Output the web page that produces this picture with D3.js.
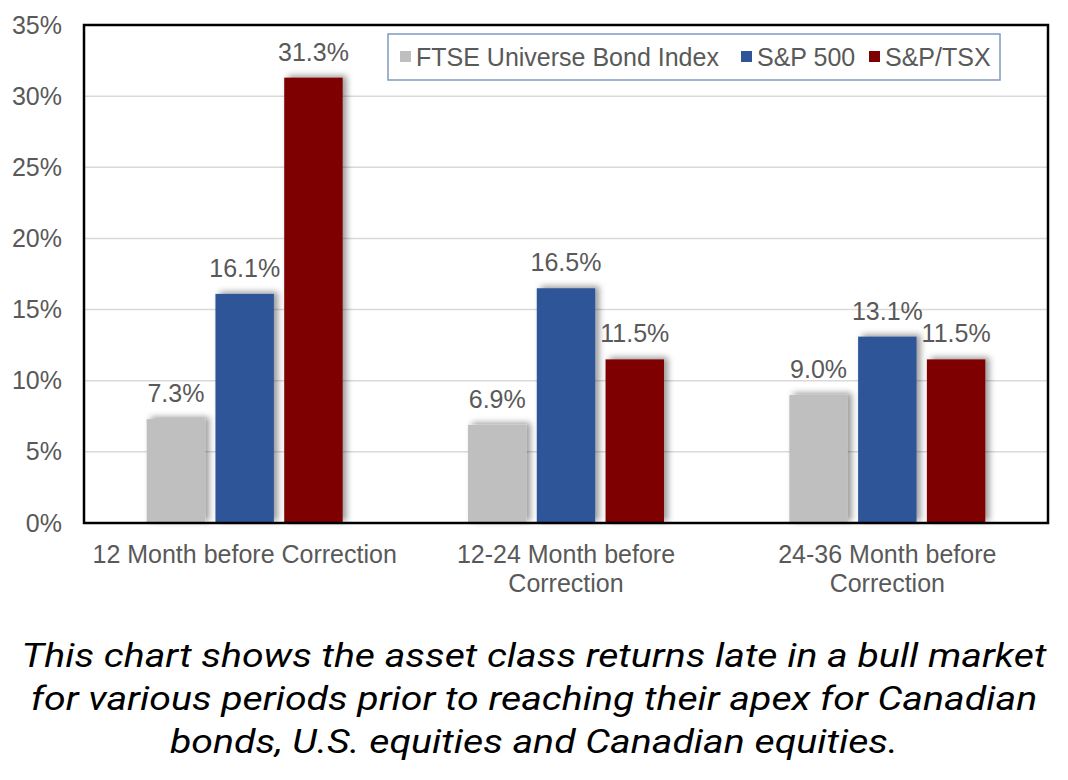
<!DOCTYPE html>
<html><head><meta charset="utf-8">
<script src="https://cdn.jsdelivr.net/npm/d3@7"></script>
<style>body{margin:0;background:#fff}svg{display:block}</style>
</head><body>
<svg id="chart" width="1068" height="780"></svg>
<script>
const categories = [["12 Month before Correction"], ["12-24 Month before", "Correction"], ["24-36 Month before", "Correction"]];
const seriesNames = ["FTSE Universe Bond Index", "S&P 500", "S&P/TSX"];
const seriesColors = ["#bfbfbf", "#2f5597", "#7f0000"];
const bondValues = [7.3, 6.9, 9.0];
const sp500Values = [16.1, 16.5, 13.1];
const tsxValues = [31.3, 11.5, 11.5];
const yTicks = [0, 5, 10, 15, 20, 25, 30, 35];
const captionLines = [
  "This chart shows the asset class returns late in a bull market",
  "for various periods prior to reaching their apex for Canadian",
  "bonds, U.S. equities and Canadian equities."
];

const seriesValues = [bondValues, sp500Values, tsxValues];
const svg = d3.select("#chart");
const font = "'Liberation Sans', Arial, sans-serif";
const textColor = "#595959";
const fsz = 25;

const plot = {left: 84, right: 1048, top: 25, bottom: 523};
const x0 = d3.scaleBand().domain(d3.range(categories.length)).range([plot.left, plot.right]).padding(0);
const groupWidth = 196;
const x1 = d3.scaleBand().domain(d3.range(seriesNames.length)).range([-groupWidth/2, groupWidth/2]).paddingInner(0.15).paddingOuter(0);
const y = d3.scaleLinear().domain([0, 35]).range([plot.bottom, plot.top]);

const defs = svg.append("defs");
const f = defs.append("filter").attr("id", "shadow").attr("x", "-30%").attr("y", "-30%").attr("width", "160%").attr("height", "160%");
f.append("feDropShadow").attr("dx", 4).attr("dy", -2).attr("stdDeviation", 3).attr("flood-color", "#000").attr("flood-opacity", 0.4);

// gridlines
svg.append("g").selectAll("line").data(yTicks.filter(t => t > 0 && t < 35)).join("line")
  .attr("x1", plot.left).attr("x2", plot.right)
  .attr("y1", d => y(d)).attr("y2", d => y(d))
  .attr("stroke", "#d9d9d9").attr("stroke-width", 1.5);

// y axis labels
const yAxis = d3.axisLeft(y).tickValues(yTicks).tickFormat(d => d + "%").tickSize(0).tickPadding(22);
const ya = svg.append("g").attr("transform", `translate(${plot.left},0)`).call(yAxis);
ya.select(".domain").remove();
ya.selectAll("text").attr("font-family", font).attr("font-size", fsz).attr("fill", textColor);

// bars
const groups = svg.append("g").selectAll("g").data(categories).join("g")
  .attr("transform", (d, i) => `translate(${x0(i) + x0.bandwidth()/2},0)`);
groups.each(function(cat, ci) {
  const g = d3.select(this);
  const data = seriesNames.map((s, si) => ({si, v: seriesValues[si][ci]}));
  g.selectAll("rect").data(data).join("rect")
    .attr("x", d => x1(d.si)).attr("width", x1.bandwidth())
    .attr("y", d => y(d.v)).attr("height", d => y(0) - y(d.v))
    .attr("fill", d => seriesColors[d.si]).attr("filter", "url(#shadow)");
  g.selectAll("text.val").data(data).join("text").attr("class", "val")
    .attr("x", d => x1(d.si) + x1.bandwidth()/2).attr("y", d => y(d.v) - 17)
    .attr("text-anchor", "middle").attr("font-family", font).attr("font-size", fsz).attr("fill", textColor)
    .text(d => d.v.toFixed(1) + "%");
});

// plot border
svg.append("rect").attr("x", plot.left).attr("y", plot.top)
  .attr("width", plot.right - plot.left).attr("height", plot.bottom - plot.top)
  .attr("fill", "none").attr("stroke", "#000").attr("stroke-width", 2.5);

// category labels
const cl = svg.append("g").selectAll("text").data(categories).join("text")
  .attr("x", (d, i) => x0(i) + x0.bandwidth()/2).attr("y", 563)
  .attr("text-anchor", "middle").attr("font-family", font).attr("font-size", fsz).attr("fill", textColor);
cl.selectAll("tspan").data(d => d).join("tspan")
  .attr("x", function() { return this.parentNode.getAttribute("x"); })
  .attr("dy", (d, i) => i === 0 ? 0 : 29).text(d => d);

// legend
const lg = svg.append("g");
lg.append("rect").attr("x", 388).attr("y", 34).attr("width", 612).attr("height", 46)
  .attr("fill", "#fff").attr("stroke", "#7f9ac0").attr("stroke-width", 1.5);
const legendX = [400, 741, 869];
seriesNames.forEach((s, i) => {
  lg.append("rect").attr("x", legendX[i]).attr("y", 51).attr("width", 11).attr("height", 11).attr("fill", seriesColors[i]);
  lg.append("text").attr("x", legendX[i] + 16).attr("y", 66).attr("font-family", font).attr("font-size", fsz)
    .attr("fill", textColor).text(s);
});

// caption (Roboto italic, stretched horizontally to the reference width)
const capG = svg.append("g");
const cap = capG.selectAll("text").data(captionLines).join("text")
  .attr("x", 0).attr("y", (d, i) => 667 + i * 43)
  .attr("text-anchor", "middle").attr("font-family", "Roboto, 'DejaVu Sans', sans-serif")
  .attr("font-style", "italic").attr("font-size", 34).attr("fill", "#000").text(d => d);
const w0 = cap.node().getComputedTextLength();
capG.attr("transform", `translate(534,0) scale(${1025 / w0},1)`);
</script>
</body></html>
